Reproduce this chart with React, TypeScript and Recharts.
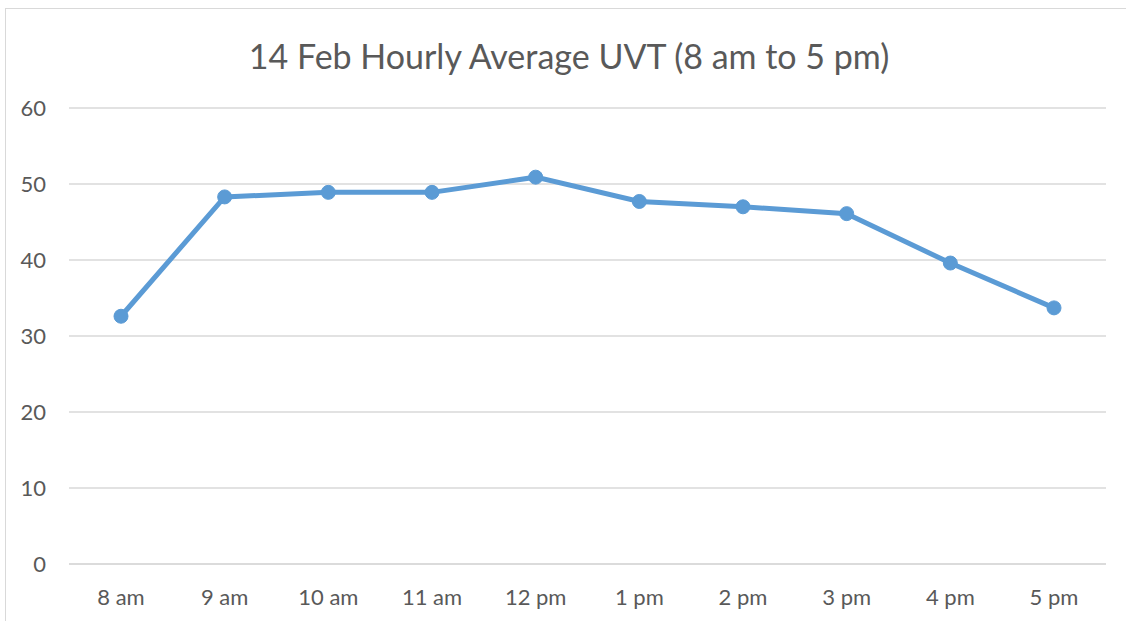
import React from "react";
import { LineChart, Line, XAxis, YAxis, CartesianGrid } from "recharts";

const hours = ["8 am", "9 am", "10 am", "11 am", "12 pm", "1 pm", "2 pm", "3 pm", "4 pm", "5 pm"];
const uvt = [32.6, 48.3, 48.9, 48.9, 50.9, 47.7, 47.0, 46.1, 39.6, 33.7];
const yTicks = [0, 10, 20, 30, 40, 50, 60];

const data = hours.map((hour, i) => ({ hour, uvt: uvt[i] }));

const textColor = "#595959";
const gridColor = "#d9d9d9";
const font = "Lato, 'Open Sans', sans-serif";

function App() {
  return (
    <div
      style={{
        position: "absolute",
        left: 0,
        top: 0,
        width: 1126,
        height: 621,
        background: "#fff",
        overflow: "hidden",
        fontFamily: font,
      }}
    >
      {/* chart frame: only top and left edges are visible */}
      <div
        style={{
          position: "absolute",
          left: 5,
          top: 8,
          width: 1121,
          height: 613,
          borderLeft: `1.5px solid ${gridColor}`,
          borderTop: `1.5px solid ${gridColor}`,
          boxSizing: "border-box",
        }}
      />
      <div
        style={{
          position: "absolute",
          left: 0,
          top: 32,
          width: 1138,
          textAlign: "center",
          fontSize: 34,
          color: textColor,
          lineHeight: "48px",
        }}
      >
        14 Feb Hourly Average UVT (8 am to 5 pm)
      </div>
      <div style={{ position: "absolute", left: 0, top: 0 }}>
        <LineChart
          width={1126}
          height={621}
          data={data}
          margin={{ top: 108, right: 20, bottom: 17, left: 9 }}
        >
          <CartesianGrid vertical={false} stroke={gridColor} strokeWidth={1.5} />
          <XAxis
            dataKey="hour"
            padding={{ left: 52, right: 52 }}
            tickLine={false}
            tickSize={0}
            tickMargin={25}
            axisLine={{ stroke: gridColor, strokeWidth: 1.5 }}
            tick={{ fill: textColor, fontSize: 22, fontFamily: font }}
            height={40}
            interval={0}
          />
          <YAxis
            domain={[0, 60]}
            ticks={yTicks}
            width={60}
            axisLine={false}
            tickLine={false}
            tickSize={0}
            tickMargin={23}
            tick={{ fill: textColor, fontSize: 22, fontFamily: font }}
          />
          <Line
            type="linear"
            dataKey="uvt"
            stroke="#5b9bd5"
            strokeWidth={5}
            dot={{ r: 7, fill: "#5b9bd5", stroke: "#5b9bd5", strokeWidth: 1 }}
            isAnimationActive={false}
          />
        </LineChart>
      </div>
    </div>
  );
}

export default App;
